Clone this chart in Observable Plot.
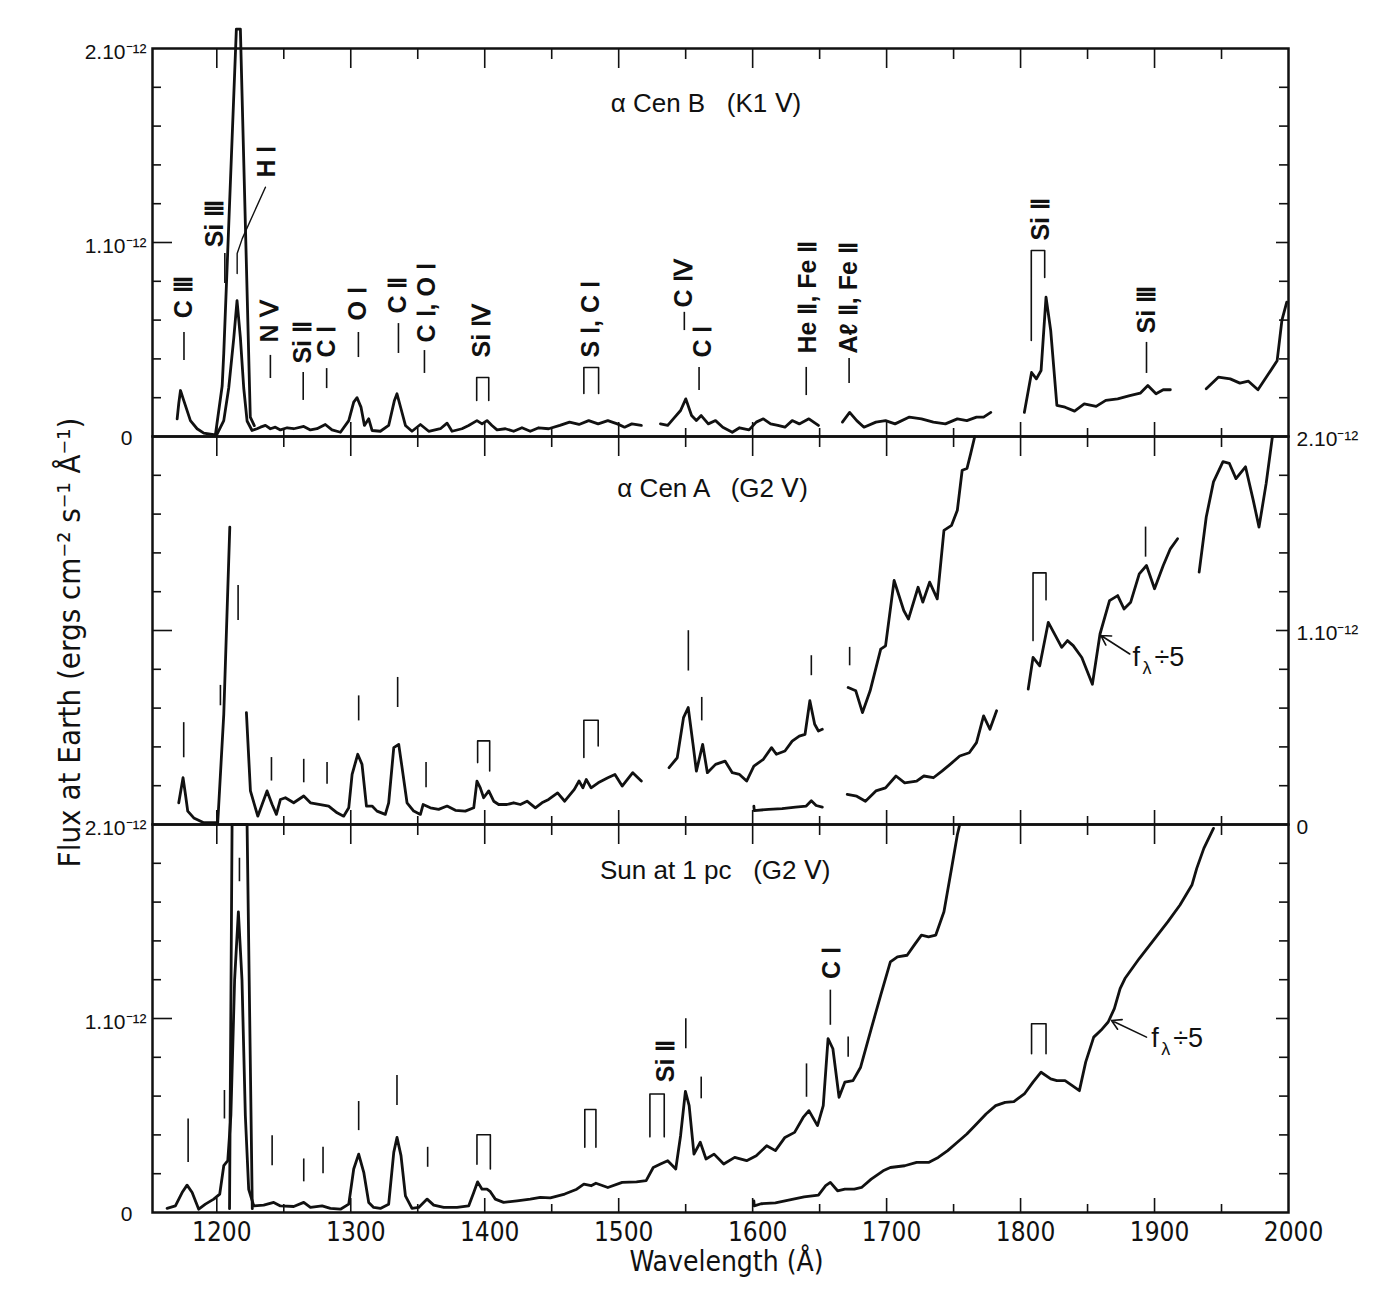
<!DOCTYPE html>
<html><head><meta charset="utf-8">
<script src="https://cdn.jsdelivr.net/npm/d3@7"></script>
<script src="https://cdn.jsdelivr.net/npm/@observablehq/plot@0.6"></script>
<style>body{margin:0;background:#fff} #chart{width:1384px;height:1304px}</style>
</head><body><div id="chart"></div>
<script>
// ---------- DATA (wavelength in Å, flux in units of 1e-12 erg cm^-2 s^-1 Å^-1) ----------
const panels = ["B", "A", "S"];
const panelTitles = [["B", "α Cen B   (K1 Ⅴ)", 1494, 1.716], ["A", "α Cen A   (G2 Ⅴ)", 1499, 1.73], ["S", "Sun at 1 pc   (G2 Ⅴ)", 1486, 1.763]];

const cenB_1 = [[1170.4,0.091],[1171.6,0.17],[1172.9,0.237],[1175.3,0.186],[1180.3,0.082],[1185.3,0.04],[1190.3,0.017],[1197.7,0.009],[1200.2,0.012],[1205.2,0.082],[1208.9,0.25],[1212.7,0.51],[1215.1,0.70],[1217.6,0.51],[1220.1,0.25],[1222.6,0.08],[1226.3,0.031],[1230,0.04],[1232.6,0.048],[1236.3,0.057],[1240,0.04],[1243.7,0.048],[1247.5,0.034],[1252.5,0.045],[1257.4,0.04],[1264.9,0.052],[1269.9,0.034],[1274.8,0.04],[1281,0.062],[1286,0.034],[1292.3,0.022],[1298.5,0.082],[1302.2,0.177],[1304.7,0.20],[1307.7,0.15],[1310.2,0.057],[1313.4,0.091],[1315.9,0.031],[1322.1,0.027],[1328.3,0.057],[1332.6,0.186],[1334.5,0.22],[1337.5,0.143],[1340.8,0.057],[1345.7,0.027],[1352,0.062],[1358.2,0.027],[1366.9,0.04],[1371.9,0.069],[1375.6,0.027],[1383,0.04],[1388,0.057],[1394.2,0.082],[1398,0.065],[1401.7,0.082],[1405.4,0.057],[1409.2,0.034],[1415.4,0.04],[1421.6,0.027],[1427.8,0.045],[1434,0.027],[1440.3,0.045],[1447.7,0.04],[1456.1,0.057],[1463.3,0.074],[1470.4,0.062],[1477.6,0.082],[1484.7,0.065],[1491.9,0.082],[1499,0.065],[1504.4,0.048],[1509.8,0.065],[1516.9,0.057]];
const cenB_lya = [[1199,0.01],[1204,0.26],[1205.2,0.43],[1214.6,2.10],[1217.6,2.10],[1225,0.10],[1228,0.056]];
const cenB_2 = [[1531.2,0.065],[1536.6,0.057],[1541.9,0.1],[1546.2,0.134],[1550.1,0.194],[1554.4,0.108],[1558,0.082],[1561.6,0.108],[1566.9,0.065],[1572.3,0.082],[1577.7,0.048],[1584.8,0.022],[1590.2,0.045],[1597.3,0.034],[1602.7,0.074],[1608,0.091],[1613.4,0.065],[1618.8,0.057],[1624.1,0.048],[1629.5,0.082],[1634.8,0.065],[1642,0.091],[1649.1,0.057]];
const cenB_3 = [[1667,0.074],[1672.4,0.124],[1677.7,0.082],[1683.1,0.048],[1692,0.074],[1699.2,0.082],[1706.3,0.065],[1717,0.1],[1726,0.091],[1734.9,0.074],[1743.9,0.065],[1752.8,0.091],[1759.9,0.082],[1767.1,0.1],[1772.4,0.1],[1777.8,0.124]];
const cenB_4 = [[1802.8,0.124],[1808.2,0.33],[1811.8,0.297],[1815.3,0.34],[1819,0.718],[1822.5,0.546],[1827.1,0.16],[1833.2,0.151],[1840.3,0.131],[1847.5,0.168],[1856.4,0.155],[1863.6,0.186],[1872.5,0.194],[1881.5,0.211],[1889.3,0.223],[1895,0.263],[1901.1,0.22],[1906.5,0.241],[1911.8,0.241]];
const cenB_5 = [[1938.6,0.246],[1947.6,0.306],[1956.5,0.297],[1963.7,0.275],[1970.1,0.285],[1977.2,0.241],[1985.1,0.323],[1991.5,0.39],[1995.1,0.60],[1998.7,0.693]];

const cenA_1 = [[1171.6,0.112],[1174.8,0.241],[1176.6,0.155],[1178.3,0.069],[1182.8,0.034],[1190.3,0.009],[1200.7,0.009],[1205.2,0.568],[1209.7,1.533]];
const cenA_2 = [[1222.1,0.577],[1225.1,0.173],[1230.6,0.043],[1233.8,0.103],[1237.5,0.173],[1241.3,0.103],[1244.5,0.052],[1247.5,0.129],[1251.2,0.138],[1257.4,0.112],[1264.9,0.147],[1269.9,0.112],[1277.3,0.103],[1283.5,0.095],[1289.8,0.06],[1294.7,0.043],[1298.5,0.086],[1301,0.258],[1305.2,0.362],[1308.4,0.31],[1311.7,0.095],[1315.9,0.095],[1319.6,0.069],[1325.8,0.052],[1328.3,0.112],[1332.1,0.396],[1335.8,0.413],[1338.3,0.293],[1342,0.112],[1347,0.069],[1352,0.052],[1354,0.103],[1359.4,0.086],[1365.6,0.078],[1371.9,0.095],[1378.1,0.073],[1385.5,0.069],[1391.8,0.086],[1394.2,0.224],[1396.7,0.189],[1399.2,0.138],[1403,0.173],[1406.7,0.12],[1410.4,0.103],[1416.6,0.103],[1421.6,0.112],[1426.6,0.103],[1431.6,0.12],[1437.8,0.086],[1442.7,0.112],[1447.7,0.129],[1454.4,0.163],[1459.7,0.12],[1466.9,0.181],[1470.4,0.224],[1473.3,0.189],[1475.8,0.232],[1479.4,0.189],[1484.7,0.215],[1491.9,0.241],[1497.2,0.258],[1502.6,0.198],[1510.5,0.267],[1516.9,0.224]];
const cenA_3 = [[1537.6,0.293],[1543.7,0.344],[1548.4,0.551],[1551.9,0.603],[1555.5,0.413],[1558,0.275],[1562.7,0.413],[1566.2,0.267],[1572.3,0.31],[1579.4,0.327],[1584.8,0.267],[1590.2,0.258],[1595.5,0.224],[1600.9,0.301],[1608,0.336],[1614.1,0.396],[1617.7,0.362],[1624.1,0.379],[1629.5,0.43],[1634.8,0.456],[1639.1,0.465],[1642.7,0.638],[1646.3,0.517],[1649.1,0.482],[1652,0.491]];
const cenA_4 = [[1671.3,0.706],[1677,0.689],[1682,0.577],[1687.7,0.689],[1695.6,0.904],[1699.2,0.921],[1705.6,1.258],[1712.8,1.103],[1716.3,1.059],[1723.5,1.223],[1727,1.146],[1732.1,1.249],[1737.8,1.163],[1742.8,1.516],[1748.5,1.542],[1752.8,1.62],[1756.4,1.826],[1760,1.835],[1762.8,1.913],[1765.8,2.0]];
// f_lambda / 5 curves
const cenA_f1 = [[1600.9,0.095],[1601.2,0.072],[1612,0.078],[1622,0.082],[1632,0.09],[1640,0.095],[1643.8,0.122],[1647.4,0.098],[1652,0.09]];
const cenA_f2 = [[1670.6,0.155],[1677.7,0.146],[1684.2,0.12],[1692,0.173],[1699.2,0.189],[1707,0.25],[1713.5,0.215],[1722.4,0.224],[1727.8,0.25],[1734.9,0.241],[1741.3,0.275],[1747.4,0.31],[1754.6,0.353],[1761.7,0.37],[1767.1,0.422],[1772.4,0.56],[1777.1,0.491],[1782.1,0.586]];
const cenA_f3 = [[1805.7,0.698],[1809.3,0.861],[1814.3,0.818],[1820.7,1.042],[1826,0.974],[1830.7,0.913],[1835,0.948],[1839.3,0.922],[1845.7,0.861],[1853.6,0.723],[1859.3,0.982],[1866.4,1.154],[1872.5,1.18],[1877.2,1.111],[1882.2,1.146],[1888.6,1.292],[1894,1.335],[1900,1.215],[1906.5,1.335],[1911.8,1.421],[1917.2,1.473]];
const cenA_f4 = [[1933.3,1.301],[1938.6,1.585],[1944,1.766],[1951.1,1.87],[1955.8,1.862],[1960.8,1.783],[1967.9,1.844],[1973.7,1.671],[1978,1.533],[1983.3,1.757],[1988,2.0]];

const sun_1 = [[1162.9,0.021],[1169.1,0.034],[1174.1,0.103],[1177.8,0.141],[1181.6,0.103],[1186.5,0.017],[1191.5,0.043],[1197.7,0.069],[1202.2,0.095],[1205.2,0.241],[1208.2,0.267],[1210.5,0.5],[1213.3,1.2],[1216.1,1.55],[1218.8,1.2],[1221.3,0.5],[1223.8,0.12],[1227.6,0.034],[1235,0.038],[1242.5,0.052],[1247.5,0.034],[1257.4,0.031],[1264.9,0.052],[1269.9,0.026],[1278.6,0.034],[1284.8,0.021],[1292.3,0.017],[1298.5,0.043],[1302.2,0.224],[1305.9,0.301],[1309.7,0.207],[1313.4,0.052],[1317.1,0.026],[1322.1,0.021],[1328.3,0.043],[1332.1,0.31],[1334.5,0.387],[1337.5,0.293],[1340.8,0.086],[1345.7,0.021],[1350.7,0.026],[1357,0.069],[1361.9,0.038],[1369.4,0.026],[1379.3,0.026],[1388,0.034],[1391.8,0.103],[1394.7,0.158],[1398,0.12],[1401.7,0.12],[1404.2,0.107],[1407.9,0.069],[1414.1,0.052],[1424.1,0.06],[1434,0.069],[1441.5,0.078],[1449,0.075],[1459.7,0.095],[1468.7,0.12],[1474,0.146],[1479.4,0.138],[1483,0.151],[1491.9,0.129],[1502.6,0.155],[1513.3,0.158],[1520.5,0.164],[1525.8,0.232],[1531.2,0.25],[1536.6,0.267],[1542.6,0.224],[1546.2,0.396],[1549.8,0.624],[1552.6,0.551],[1556.2,0.301],[1560.9,0.362],[1565.2,0.276],[1571.2,0.301],[1578.4,0.25],[1586.6,0.284],[1595.5,0.267],[1602.7,0.293],[1610.5,0.344],[1617,0.319],[1624.1,0.387],[1631.3,0.413],[1637.7,0.49],[1642,0.525],[1648.4,0.448],[1652.7,0.551],[1656.3,0.896],[1659.9,0.844],[1664.5,0.594],[1668.8,0.672],[1674.9,0.68],[1680.6,0.749],[1688.5,0.947],[1695.6,1.12],[1702.8,1.292],[1708.1,1.318],[1715.3,1.326],[1720.6,1.378],[1726,1.43],[1731.3,1.421],[1736.7,1.43],[1742.8,1.55],[1748.5,1.774],[1752.8,1.947],[1754.6,2.0]];
const sun_lya = [[1209.5,0.02],[1211.4,2.0],[1222.6,2.0],[1226.5,0.02]];
const sun_f = [[1600.9,0.06],[1601.2,0.034],[1606.3,0.045],[1617,0.05],[1627.7,0.065],[1638.4,0.08],[1649.1,0.09],[1654.5,0.138],[1658,0.155],[1663.4,0.112],[1668.8,0.12],[1675.9,0.12],[1681.3,0.129],[1688.5,0.172],[1697.4,0.215],[1702.8,0.232],[1713.5,0.241],[1722.4,0.258],[1731.3,0.258],[1738.5,0.284],[1745.6,0.319],[1752.8,0.362],[1759.9,0.405],[1767.1,0.456],[1774.2,0.508],[1781.4,0.551],[1788.5,0.568],[1795,0.572],[1802.8,0.611],[1809.3,0.672],[1815.3,0.723],[1822.5,0.689],[1827.1,0.68],[1833.2,0.68],[1838.6,0.654],[1843.9,0.628],[1848.6,0.775],[1854.6,0.904],[1860,0.939],[1865.4,0.982],[1870,1.051],[1874.3,1.154],[1877.9,1.206],[1888.6,1.309],[1899.3,1.404],[1910,1.499],[1919,1.585],[1927.9,1.688],[1931.5,1.774],[1936.8,1.877],[1944,1.98]];

// line identification marks: [wavelength, flux top, flux bottom]
const idTicksB = [[1175.5,0.536,0.392],[1206,0.943,0.789],[1240,0.418,0.299],[1264.5,0.33,0.186],[1282,0.35,0.247],[1305.7,0.536,0.407],[1335.6,0.582,0.428],[1355,0.443,0.325],[1549,0.64,0.546],[1560,0.356,0.237],[1640,0.356,0.211],[1672,0.402,0.273],[1894,0.485,0.325]];
const idTicksA = [[1175.3,0.525,0.344],[1202.7,0.717,0.612],[1215.9,1.232,1.052],[1240.8,0.345,0.224],[1264.9,0.336,0.215],[1282.3,0.319,0.207],[1305.9,0.663,0.534],[1335,0.758,0.603],[1356.2,0.319,0.189],[1552,0.999,0.791],[1562,0.655,0.534],[1643.8,0.87,0.767],[1672.4,0.913,0.818],[1893.3,1.533,1.378]];
const idTicksS = [[1178.6,0.482,0.258],[1205.7,0.629,0.482],[1216.9,1.826,1.705],[1241.3,0.396,0.241],[1264.9,0.276,0.158],[1279.3,0.336,0.2],[1305.9,0.572,0.422],[1334.5,0.706,0.551],[1357.4,0.336,0.233],[1550.1,0.999,0.844],[1561.6,0.698,0.586],[1640.2,0.766,0.594],[1658,1.146,0.965],[1671.3,0.904,0.8]];
// multiplet brackets: [panel, lambda1, lambda2, top, left foot, right foot]
const idBrackets = [["B",1394,1403,0.304,0.186,0.186],["B",1474,1485,0.356,0.222,0.222],["B",1808,1818,0.959,0.495,0.82],
  ["A",1394.7,1403.7,0.431,0.319,0.276],["A",1474,1484.7,0.537,0.345,0.405],["A",1809.3,1819,1.297,0.948,1.158],
  ["S",1394.2,1404.2,0.401,0.249,0.224],["S",1474.7,1483,0.531,0.336,0.336],["S",1523.3,1534,0.611,0.39,0.39],["S",1808.2,1819,0.973,0.818,0.818]];
// rotated ion labels: [panel, text, wavelength, flux at start]
const idLabels = [["B","C Ⅲ",1175.5,0.61],["B","Si Ⅲ",1199,0.975],["B","H Ⅰ",1237.8,1.335],["B","N Ⅴ",1240,0.485],["B","Si Ⅱ",1264.5,0.376],["B","C Ⅰ",1282,0.407],["B","O Ⅰ",1305.7,0.598],["B","C Ⅱ",1335.6,0.634],["B","C Ⅰ, O Ⅰ",1357,0.485],["B","Si Ⅳ",1398,0.407],["B","S Ⅰ, C Ⅰ",1479.5,0.407],["B","C Ⅳ",1549,0.665],["B","C Ⅰ",1563,0.407],["B","He Ⅱ, Fe Ⅱ",1641,0.428],["B","Aℓ Ⅱ, Fe Ⅱ",1672,0.428],["B","Si Ⅱ",1815.4,1.01],["B","Si Ⅲ",1894,0.531],
  ["S","Si Ⅱ",1535,0.672],["S","C Ⅰ",1659.5,1.204]];
const hiLeader = [[1236.3,1.285],[1219,1.02],[1215.2,0.943],[1215.2,0.84]];
// f_lambda / 5 arrows: [panel, tail lambda, tail flux, head lambda, head flux]
const fArrows = [["A",1881.5,0.879,1860,0.974],["S",1894,0.904,1867.9,0.99]];
const fLabels = [["A",1883.5,0.86],["S",1897.5,0.9]];

const yLabelsLeft = [["B",2,"2.10⁻¹²"],["B",1,"1.10⁻¹²"],["S",2,"2.10⁻¹²"],["S",1,"1.10⁻¹²"]];
const yZeroLeft = [["B",0,"0"],["S",0,"0"]];
const yLabelsRight = [["A",2,"2.10⁻¹²"],["A",1,"1.10⁻¹²"],["A",0,"0"]];
const xTickLabels = [1200,1300,1400,1500,1600,1700,1800,1900,2000];
const xMajor = [1200,1300,1400,1500,1600,1700,1800,1900];
const xMinor = [1250,1350,1450,1550,1650,1750,1850,1950];
const yMinor = [0.2,0.4,0.6,0.8,1.2,1.4,1.6,1.8];

// ---------- BUILD ----------
const W = 1384, H = 1304, ML = 152, MR = 96, MT = 48, MB = 92;
const FW = W - ML - MR, FH = (H - MT - MB) / 3;

const rows = (panel, seg, arr) => arr.map(([lam, flux]) => ({panel, seg, lam, flux}));
const spectra = [
  ...rows("B","b1",cenB_1), ...rows("B","blya",cenB_lya), ...rows("B","b2",cenB_2), ...rows("B","b3",cenB_3), ...rows("B","b4",cenB_4), ...rows("B","b5",cenB_5),
  ...rows("A","a1",cenA_1), ...rows("A","a2",cenA_2), ...rows("A","a3",cenA_3), ...rows("A","a4",cenA_4),
  ...rows("A","af1",cenA_f1), ...rows("A","af2",cenA_f2), ...rows("A","af3",cenA_f3), ...rows("A","af4",cenA_f4),
  ...rows("S","s1",sun_1), ...rows("S","slya",sun_lya), ...rows("S","sf",sun_f)
];
const ticks = [
  ...idTicksB.map(([lam,f1,f2]) => ({panel:"B",lam,f1,f2})),
  ...idTicksA.map(([lam,f1,f2]) => ({panel:"A",lam,f1,f2})),
  ...idTicksS.map(([lam,f1,f2]) => ({panel:"S",lam,f1,f2}))
];
const bracketRows = idBrackets.flatMap(([panel,l1,l2,top,bl,br], i) => [
  {panel,id:i,lam:l1,flux:bl},{panel,id:i,lam:l1,flux:top},{panel,id:i,lam:l2,flux:top},{panel,id:i,lam:l2,flux:br}]);
const labelRows = idLabels.map(([panel,t,lam,flux]) => ({panel,t,lam,flux}));
const leaderRows = rows("B","lead",hiLeader);
const arrowRows = fArrows.map(([panel,x1,y1,x2,y2]) => ({panel,x1,y1,x2,y2}));
const fRows = fLabels.map(([panel,lam,flux]) => ({panel,lam,flux}));
const lbl = a => a.map(([panel,v,t]) => ({panel,v,t}));
const titleRows = panelTitles.map(([panel,t,lam,flux]) => ({panel,t,lam,flux}));

const numFont = "'DejaVu Sans Condensed', 'Liberation Sans Narrow', sans-serif";
const labFont = "'Liberation Sans', Arial, sans-serif";

const chart = Plot.plot({
  width: W, height: H, marginLeft: ML, marginRight: MR, marginTop: MT, marginBottom: MB,
  style: {fontFamily: labFont, fontSize: "20px", color: "#111", background: "white", overflow: "visible"},
  x: {domain: [1152, 2000]},
  y: {domain: [0, 2], axis: null},
  fy: {domain: panels, padding: 0, axis: null, label: null},
  marks: [
    // axis ticks (inward)
    Plot.ruleX(xMajor, {x: d => d, insetBottom: FH - 20, strokeWidth: 1.6}),
    Plot.ruleX(xMinor, {x: d => d, insetBottom: FH - 11, strokeWidth: 1.6}),
    Plot.ruleX(xMajor, {x: d => d, insetTop: FH - 14, strokeWidth: 1.6}),
    Plot.ruleX(xMinor, {x: d => d, insetTop: FH - 8, strokeWidth: 1.6}),
    Plot.ruleY(yMinor, {y: d => d, insetRight: FW - 9, strokeWidth: 1.6}),
    Plot.ruleY([1], {y: d => d, insetRight: FW - 20, strokeWidth: 1.6}),
    Plot.ruleY(yMinor, {y: d => d, insetLeft: FW - 9, strokeWidth: 1.6}),
    Plot.ruleY([1], {y: d => d, insetLeft: FW - 12, strokeWidth: 1.6}),
    Plot.frame({strokeWidth: 2.5}),
    // spectra
    Plot.line(spectra, {x: "lam", y: "flux", z: "seg", fy: "panel", stroke: "#111", strokeWidth: 2.8, strokeLinejoin: "round"}),
    // identifications
    Plot.ruleX(ticks, {x: "lam", y1: "f1", y2: "f2", fy: "panel", strokeWidth: 1.6}),
    Plot.line(bracketRows, {x: "lam", y: "flux", z: "id", fy: "panel", strokeWidth: 1.6}),
    Plot.line(leaderRows, {x: "lam", y: "flux", fy: "panel", strokeWidth: 1.4}),
    Plot.text(labelRows, {x: "lam", y: "flux", text: "t", fy: "panel", rotate: -90, textAnchor: "start", lineAnchor: "middle", fontSize: 25, fontWeight: "bold"}),
    // panel titles
    Plot.text(titleRows, {x: "lam", y: "flux", text: "t", fy: "panel", textAnchor: "start", fontSize: 26}),
    // f_lambda / 5
    Plot.arrow(arrowRows, {x1: "x1", y1: "y1", x2: "x2", y2: "y2", fy: "panel", strokeWidth: 1.6, headLength: 10}),
    Plot.text(fRows, {x: "lam", y: "flux", fy: "panel", text: () => "f", textAnchor: "start", fontSize: 27}),
    Plot.text(fRows, {x: "lam", y: "flux", fy: "panel", text: () => "λ", textAnchor: "start", fontSize: 18, dx: 10, dy: 11}),
    Plot.text(fRows, {x: "lam", y: "flux", fy: "panel", text: () => "÷5", textAnchor: "start", fontSize: 27, dx: 22}),
    // y tick labels
    Plot.text(lbl(yLabelsLeft), {y: "v", text: "t", fy: "panel", frameAnchor: "left", textAnchor: "end", dx: -6, dy: 4, fontSize: 21}),
    Plot.text(lbl(yZeroLeft), {y: "v", text: "t", fy: "panel", frameAnchor: "left", textAnchor: "end", dx: -20, dy: 2, fontSize: 21}),
    Plot.text(lbl(yLabelsRight), {y: "v", text: "t", fy: "panel", frameAnchor: "right", textAnchor: "start", dx: 8, dy: 3, fontSize: 21}),
    // y title
    Plot.text([{panel: "A", t: "Flux at Earth (ergs cm⁻² s⁻¹ Å⁻¹)"}], {text: "t", fy: "panel", frameAnchor: "left", textAnchor: "middle", rotate: -90, dx: -82, dy: 12, fontSize: 31, fontFamily: numFont}),
    // x axis
    Plot.axisX({anchor: "bottom", ticks: xTickLabels, tickSize: 0, tickPadding: 10, tickFormat: d => String(d), fontSize: 26, fontFamily: numFont, dx: 5, label: null}),
    Plot.text([{panel: "S", t: "Wavelength (Å)"}], {text: "t", fy: "panel", frameAnchor: "bottom", dy: 58, dx: 6, fontSize: 28, fontFamily: numFont})
  ]
});
document.getElementById("chart").appendChild(chart);
</script>
</body></html>
